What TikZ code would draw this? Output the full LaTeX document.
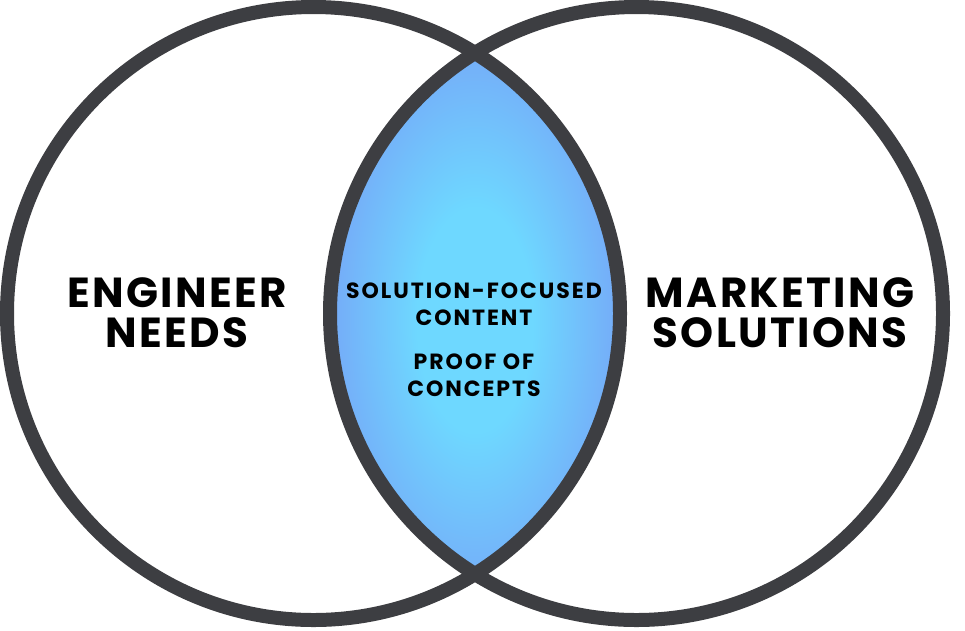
\documentclass[tikz,border=0pt]{standalone}
\usepackage{fontspec}
\setmainfont{Poppins}
\usepackage{tikz}
\usetikzlibrary{positioning}
\definecolor{ringgray}{HTML}{3D3E42}
\definecolor{lenscore}{HTML}{6ED8FF}
\definecolor{lensedge}{HTML}{7B86F2}
\pgfdeclareradialshading{lensglow}{\pgfpoint{0bp}{0bp}}{%
  color(0bp)=(lenscore); color(10bp)=(lenscore); color(37bp)=(lensedge); color(50bp)=(lensedge)}

\begin{document}
\begin{tikzpicture}[x=1pt, y=-1pt,
    ring/.style={draw=ringgray, line width=14pt},
    bigtext/.style={font=\bfseries\fontsize{42}{40}\selectfont\addfontfeature{LetterSpace=5.5}, align=center},
    smalltext/.style={font=\bfseries\fontsize{22}{27}\selectfont\addfontfeature{LetterSpace=9}, align=center}]
    \useasboundingbox (0, 0) rectangle (965, 630);

    \coordinate (L) at (313.5, 313.5);
    \coordinate (R) at (636.5, 313.5);

    % overlap
    \begin{scope}
        \clip (L) circle [radius=306.5];
        \clip (R) circle [radius=306.5];
        \fill[shading=lensglow] (330, 40) rectangle (620, 600);
    \end{scope}

    \draw[ring] (L) circle [radius=306.5];
    \draw[ring] (R) circle [radius=306.5];

    \node[bigtext] (eng) at (177, 313) {ENGINEER\\NEEDS};
    \node[bigtext] (mkt) at (780, 313) {MARKETING\\SOLUTIONS};
    \node[smalltext] (mid) at (474, 340) {SOLUTION-FOCUSED\\CONTENT\\[17pt]PROOF OF\\CONCEPTS};
\end{tikzpicture}
\end{document}
